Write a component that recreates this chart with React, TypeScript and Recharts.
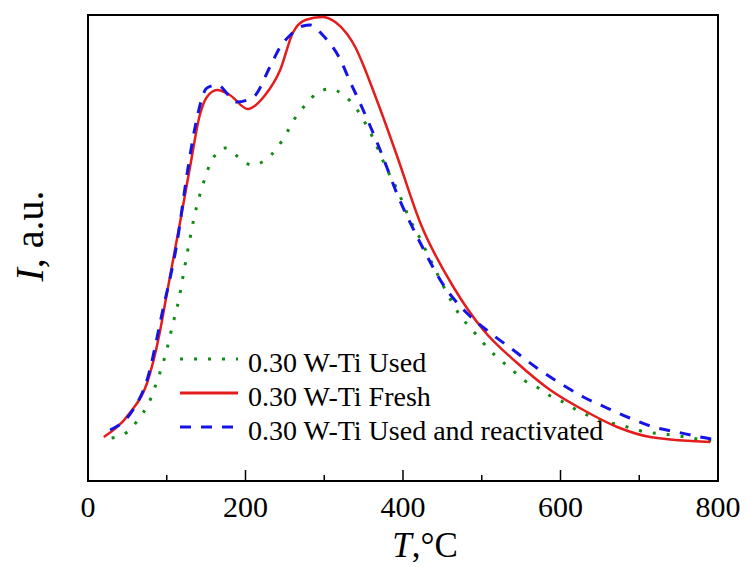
import { LineChart, Line, XAxis, YAxis, ReferenceArea, Legend } from 'recharts';

// temperatures (°C) and intensities (a.u.)
const usedT = [30, 50, 66, 76, 89, 100, 108, 113, 126, 136, 145, 151, 159, 174, 191, 208, 225, 241, 253, 263, 276, 291, 307, 326, 342, 352, 362, 377, 394, 409, 418, 443, 462, 472, 488, 502, 519, 536, 553, 572, 589, 606, 625, 641, 659, 676, 697, 750, 799];
const usedI = [43, 49, 64, 76, 103, 131, 158, 173, 228, 268, 294, 309, 323, 333, 324, 316, 321, 334, 349, 363, 376, 388, 392, 385, 371, 358, 343, 316, 289, 261, 248, 208, 179, 166, 151, 138, 124, 113, 101, 93, 84, 78, 69, 64, 59, 56, 51, 45, 39];

const freshT = [20, 53, 75, 91, 98, 108, 117, 130, 142, 151, 164, 180, 203, 225, 244, 260, 276, 297, 314, 329, 340, 349, 360, 371, 392, 422, 464, 502, 545, 587, 629, 672, 714, 790];
const freshI = [44, 68, 98, 148, 178, 221, 259, 316, 366, 384, 391, 386, 372, 386, 411, 448, 461, 464, 459, 447, 433, 417, 395, 372, 326, 258, 194, 151, 118, 91, 71, 54, 44, 39];

const reactT = [28, 57, 75, 95, 113, 126, 136, 151, 164, 189, 210, 231, 244, 257, 273, 282, 298, 320, 333, 346, 371, 392, 422, 453, 481, 511, 540, 570, 599, 629, 659, 688, 718, 748, 777, 792];
const reactI = [51, 71, 101, 171, 238, 308, 354, 393, 396, 379, 384, 414, 434, 446, 455, 456, 446, 422, 399, 377, 331, 288, 238, 194, 168, 148, 131, 113, 98, 84, 73, 63, 54, 49, 44, 42];

const xTicks = [0, 100, 200, 300, 400, 500, 600, 700, 800];

const toRows = (ts: number[], vs: number[]) => ts.map((t, i) => ({ t, v: vs[i] }));

const used = toRows(usedT, usedI);
const fresh = toRows(freshT, freshI);
const react = toRows(reactT, reactI);

const serif = { fontFamily: "'Liberation Serif', 'Times New Roman', Times, serif" };

const series = [
  { name: '0.30 W-Ti Used', color: '#138a13', dash: '3 11' },
  { name: '0.30 W-Ti Fresh', color: '#e41c1c', dash: undefined },
  { name: '0.30 W-Ti Used and reactivated', color: '#1414e6', dash: '11 10' },
];

const Tick = (props: any) => {
  const { x, y, payload } = props;
  const major = payload.value % 200 === 0;
  return (
    <g>
      <line x1={x} x2={x} y1={y} y2={y - (major ? 11 : 6)} stroke="#000" strokeWidth={1.5} />
      {major && (
        <text x={x} y={y + 36} textAnchor="middle" fontSize={30} style={serif} fill="#000">
          {payload.value}
        </text>
      )}
    </g>
  );
};

const XLabel = () => (
  <text x={425} y={557} textAnchor="middle" fontSize={35} style={serif} fill="#000">
    <tspan fontStyle="italic">T</tspan>,°C
  </text>
);

const YLabel = () => (
  <text
    x={0}
    y={0}
    transform="translate(43, 236) rotate(-90)"
    textAnchor="middle"
    fontSize={40}
    style={serif}
    fill="#000"
  >
    <tspan fontStyle="italic">I</tspan>, a.u.
  </text>
);

const renderLegend = () => (
  <svg width={480} height={110} style={{ overflow: 'visible' }}>
    {series.map((s, i) => {
      const y = 19 + i * 34;
      return (
        <g key={s.name}>
          <line x1={10} x2={68} y1={y} y2={y} stroke={s.color} strokeWidth={3} strokeDasharray={s.dash} />
          <text x={78} y={y + 13} fontSize={28} style={serif} fill="#000">
            {s.name}
          </text>
        </g>
      );
    })}
  </svg>
);

export default function App() {
  return (
    <div style={{ position: 'absolute', left: 0, top: 0, width: 750, height: 567, background: '#fff' }}>
      <LineChart width={750} height={567} margin={{ top: 15, right: 32, bottom: 0, left: 0 }}>
        <XAxis
          dataKey="t"
          type="number"
          domain={[0, 800]}
          ticks={xTicks}
          interval={0}
          height={86}
          tickSize={0}
          tickMargin={0}
          tickLine={false}
          axisLine={false}
          tick={<Tick />}
          label={{ content: XLabel }}
        />
        <YAxis
          type="number"
          domain={[0, 466]}
          width={88}
          tick={false}
          tickLine={false}
          axisLine={false}
          label={{ content: YLabel }}
        />
        <ReferenceArea x1={0} x2={800} y1={0} y2={466} fill="none" stroke="#000" strokeWidth={2} ifOverflow="visible" />
        <Legend
          layout="vertical"
          align="center"
          verticalAlign="middle"
          content={renderLegend}
          wrapperStyle={{ position: 'absolute', left: 170, top: 340, width: 480, height: 110 }}
        />
        <Line
          data={used}
          dataKey="v"
          name={series[0].name}
          type="monotone"
          stroke={series[0].color}
          strokeWidth={3}
          strokeDasharray={series[0].dash}
          dot={false}
          activeDot={false}
          isAnimationActive={false}
        />
        <Line
          data={fresh}
          dataKey="v"
          name={series[1].name}
          type="monotone"
          stroke={series[1].color}
          strokeWidth={2.5}
          dot={false}
          activeDot={false}
          isAnimationActive={false}
        />
        <Line
          data={react}
          dataKey="v"
          name={series[2].name}
          type="monotone"
          stroke={series[2].color}
          strokeWidth={3}
          strokeDasharray={series[2].dash}
          dot={false}
          activeDot={false}
          isAnimationActive={false}
        />
      </LineChart>
    </div>
  );
}
